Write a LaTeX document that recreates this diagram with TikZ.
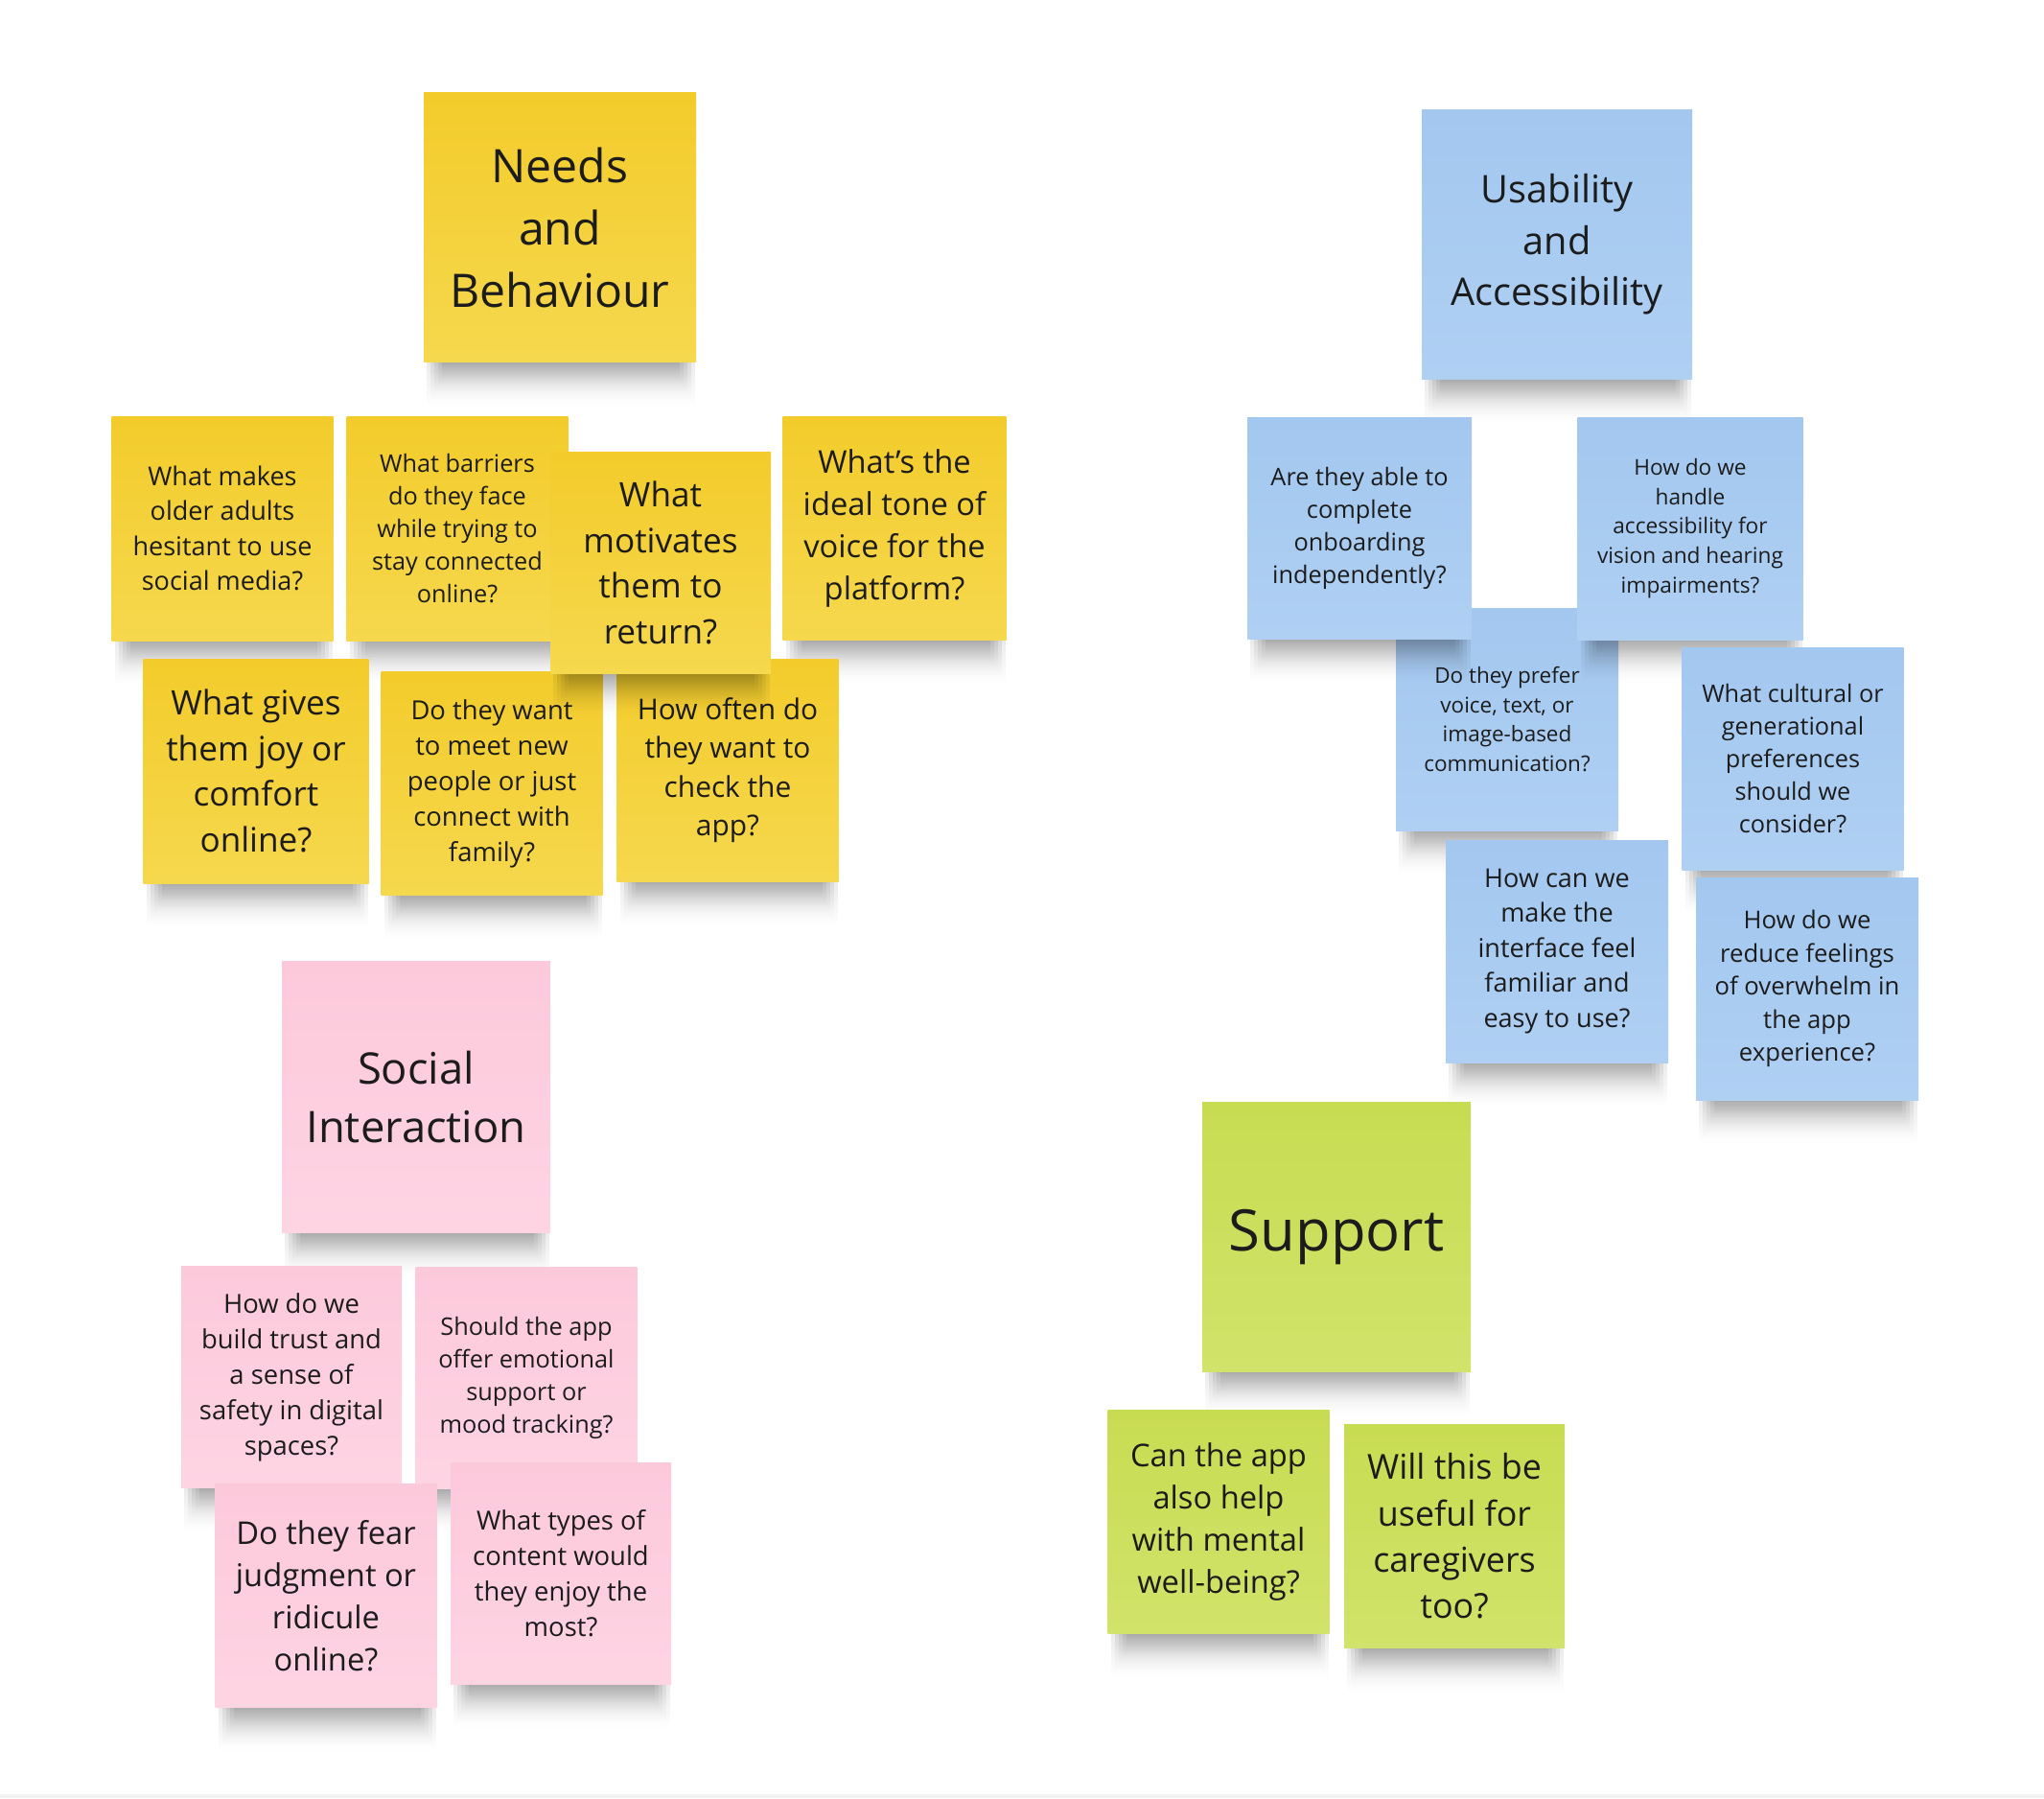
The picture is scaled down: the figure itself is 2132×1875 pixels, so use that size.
\documentclass[tikz,border=0pt]{standalone}
\usepackage{fontspec}
\setmainfont{Open Sans}
\usepackage{xcolor}
\usepackage{tikz}
\usetikzlibrary{fadings}
\definecolor{inkdark}{HTML}{1C1C1C}
\definecolor{yellowtop}{HTML}{F3CC2B}
\definecolor{yellowbot}{HTML}{F6D84E}
\definecolor{bluetop}{HTML}{A3C7EF}
\definecolor{bluebot}{HTML}{AFD0F3}
\definecolor{pinktop}{HTML}{FCC9DB}
\definecolor{pinkbot}{HTML}{FED4E3}
\definecolor{greentop}{HTML}{C8DC52}
\definecolor{greenbot}{HTML}{D1E36A}

\tikzset{
  sticky/.style={inner sep=0pt, align=center, text=inkdark},
  yellowsticky/.style={sticky, top color=yellowtop, bottom color=yellowbot},
  bluesticky/.style={sticky, top color=bluetop, bottom color=bluebot},
  pinksticky/.style={sticky, top color=pinktop, bottom color=pinkbot},
  greensticky/.style={sticky, top color=greentop, bottom color=greenbot},
  shadowfill/.style={fill=black, opacity=.09, path fading=south}
}

% #1 name, #2 style, #3 x, #4 y, #5 width, #6 height, #7 font size, #8 text
\newcommand{\sticky}[8]{%
  \foreach \k in {0,...,4}
    \fill[shadowfill] ({#3-#5/2+3+4*\k},{#4+#6/2-6}) rectangle ({#3+#5/2-1-4*\k},{#4+#6/2+46-7*\k});
  \pgfmathsetmacro\notebs{1.35*#7}
  \node[#2, minimum width=#5*0.1mm, minimum height=#6*0.1mm,
        font=\fontsize{#7}{\notebs}\selectfont] (#1) at (#3,#4) {#8};
}

\begin{document}
\begin{tikzpicture}[x=0.1mm, y=-0.1mm]
    \useasboundingbox (0,0) rectangle (2132,1875);
    \fill[white] (0,0) rectangle (2132,1875);
    \fill[gray!10] (0,1871) rectangle (2132,1875);

    % Needs and Behaviour
    \sticky{needs}{yellowsticky}{584}{237}{284}{281}{13.7}{Needs\\and\\Behaviour}
    \sticky{hesitant}{yellowsticky}{232}{551}{231}{234}{7.7}{What makes\\older adults\\hesitant to use\\social media?}
    \sticky{barriers}{yellowsticky}{477}{551}{231}{234}{7.2}{What barriers\\do they face\\while trying to\\stay connected\\online?}
    \sticky{tone}{yellowsticky}{933}{551}{233}{233}{9.3}{What’s the\\ideal tone of\\voice for the\\platform?}
    \sticky{joy}{yellowsticky}{267}{804}{235}{234}{10}{What gives\\them joy or\\comfort\\online?}
    \sticky{meet}{yellowsticky}{513}{817}{231}{233}{7.8}{Do they want\\to meet new\\people or just\\connect with\\family?}
    \sticky{often}{yellowsticky}{759}{803}{231}{232}{8.5}{How often do\\they want to\\check the\\app?}
    \sticky{motivates}{yellowsticky}{689}{587}{230}{231}{10}{What\\motivates\\them to\\return?}

    % Usability and Accessibility
    \sticky{usability}{bluesticky}{1624}{255}{282}{281}{11.3}{Usability\\and\\Accessibility}
    \sticky{prefer}{bluesticky}{1572}{750}{232}{232}{6.4}{Do they prefer\\voice, text, or\\image-based\\communication?}
    \sticky{onboarding}{bluesticky}{1418}{551}{234}{231}{7.2}{Are they able to\\complete\\onboarding\\independently?}
    \sticky{handle}{bluesticky}{1763}{551}{235}{232}{6.45}{How do we\\handle\\accessibility for\\vision and hearing\\impairments?}
    \sticky{cultural}{bluesticky}{1870}{791}{231}{232}{7.2}{What cultural or\\generational\\preferences\\should we\\consider?}
    \sticky{familiar}{bluesticky}{1624}{992}{232}{232}{7.7}{How can we\\make the\\interface feel\\familiar and\\easy to use?}
    \sticky{overwhelm}{bluesticky}{1885}{1031}{232}{232}{7.3}{How do we\\reduce feelings\\of overwhelm in\\the app\\experience?}

    % Social Interaction
    \sticky{social}{pinksticky}{434}{1144}{280}{283}{12.9}{Social\\Interaction}
    \sticky{trust}{pinksticky}{304}{1436}{230}{231}{7.8}{How do we\\build trust and\\a sense of\\safety in digital\\spaces?}
    \sticky{emotional}{pinksticky}{549}{1437}{231}{231}{7.2}{Should the app\\offer emotional\\support or\\mood tracking?}
    \sticky{judgment}{pinksticky}{340}{1664}{231}{233}{9.3}{Do they fear\\judgment or\\ridicule\\online?}
    \sticky{content}{pinksticky}{585}{1641}{230}{231}{7.8}{What types of\\content would\\they enjoy the\\most?}

    % Support
    \sticky{support}{greensticky}{1394}{1290}{280}{281}{17}{Support}
    \sticky{mental}{greensticky}{1271}{1587}{231}{233}{9.3}{Can the app\\also help\\with mental\\well-being?}
    \sticky{caregivers}{greensticky}{1517}{1602}{230}{233}{10.2}{Will this be\\useful for\\caregivers\\too?}
\end{tikzpicture}
\end{document}
